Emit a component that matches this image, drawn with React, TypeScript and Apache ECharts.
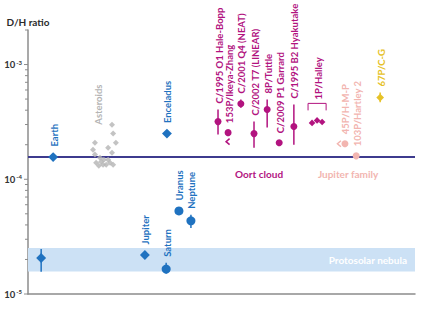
import React, { useEffect, useRef } from 'react';
import * as echarts from 'echarts';

const FONT = "Lato, 'DejaVu Sans Condensed', sans-serif";
const FS = 9.5;

// axis
const yMin = 1e-5;
const yMax = 2e-3;
const yDecades = [-5, -4, -3];
const yMinorMultipliers = [1, 2, 3, 4, 5, 6, 7, 8, 9];

// reference lines / band
const earthRatio = 1.56e-4;
const nebulaBand = [1.57e-5, 2.52e-5];
const nebulaLabel = 'Protosolar nebula';

// planets & moons (blue)
const blueNames = ['', 'Earth', 'Jupiter', 'Enceladus', 'Saturn', 'Uranus', 'Neptune'];
const blueX = [3.4, 6.5, 30.2, 35.9, 35.7, 39.0, 42.1];
const blueDH = [2.06e-5, 1.56e-4, 2.19e-5, 2.5e-4, 1.65e-5, 5.3e-5, 4.34e-5];
const blueLow = [1.56e-5, null, null, null, 1.5e-5, null, 3.77e-5];
const blueHigh = [2.47e-5, null, null, null, 1.87e-5, null, 4.9e-5];
const blueShape = ['diamond', 'diamond', 'diamond', 'diamond', 'circle', 'circle', 'circle'];

// asteroids (grey)
const asteroidLabel = 'Asteroids';
const asteroidLabelX = 18.1;
const asteroidX = [21.7, 22.0, 17.3, 22.7, 20.7, 16.8, 21.7, 17.3, 18.6, 19.6, 20.7, 17.6, 18.9, 21.2, 19.4, 22.0, 18.3, 20.2];
const asteroidDH = [2.99e-4, 2.5e-4, 2.08e-4, 2.08e-4, 1.88e-4, 1.81e-4, 1.7e-4, 1.64e-4, 1.54e-4, 1.48e-4, 1.48e-4, 1.39e-4, 1.42e-4, 1.39e-4, 1.34e-4, 1.34e-4, 1.31e-4, 1.34e-4];

// Oort cloud comets (magenta)
const oortNames = ['C/1995 O1 Hale-Bopp', '153P/Ikeya-Zhang', 'C/2001 Q4 (NEAT)', 'C/2002 T7 (LINEAR)', '8P/Tuttle', 'C/2009 P1 Garrard', 'C/1995 B2 Hyakutake'];
const oortX = [49.1, 51.7, 55.0, 58.4, 61.8, 64.9, 68.7];
const oortDH = [3.18e-4, 2.55e-4, 4.56e-4, 2.5e-4, 4.05e-4, 2.08e-4, 2.88e-4];
const oortLow = [2.45e-4, null, 4.21e-4, 1.88e-4, 2.82e-4, null, 2.0e-4];
const oortHigh = [4.05e-4, null, 4.95e-4, 3.18e-4, 4.95e-4, null, 4.48e-4];
const oortLimit = [null, 'below', null, null, null, null, null];

// 1P/Halley
const halleyName = '1P/Halley';
const halleyX = [73.4, 74.7, 76.0];
const halleyDH = [3.1e-4, 3.26e-4, 3.16e-4];

// Jupiter family comets (pink)
const jfcNames = ['45P/H-M-P', '103P/Hartley 2'];
const jfcX = [81.9, 84.8];
const jfcDH = [2.04e-4, 1.6e-4];
const jfcLimit = ['left', null];

// 67P (yellow)
const cgNames = ['67P/C-G'];
const cgX = [91.0];
const cgDH = [5.15e-4];
const cgLow = [4.7e-4];
const cgHigh = [5.7e-4];

// group labels
const groupNames = ['Oort cloud', 'Jupiter family'];
const groupX = [59.7, 82.7];

const BLUE = '#1f72c0';
const GREY = '#b4b4b4';
const MAGENTA = '#b2137f';
const PINK = '#f2b5b0';
const YELLOW = '#e6c228';
const EARTHLINE = '#3e3b8e';

function pointSeries(cfg: any) {
  const { names, xs, vals, lows, highs, shapes, color, r, gap, limits } = cfg;
  return {
    type: 'custom',
    z: 5,
    clip: false,
    data: xs.map((x: number, i: number) => [x, vals[i], lows && lows[i] != null ? lows[i] : vals[i], highs && highs[i] != null ? highs[i] : vals[i]]),
    encode: { x: 0, y: 1 },
    renderItem: (params: any, api: any) => {
      const i = params.dataIndex;
      const x = api.value(0);
      const p = api.coord([x, api.value(1)]);
      const lo = api.coord([x, api.value(2)]);
      const hi = api.coord([x, api.value(3)]);
      const children: any[] = [];
      const hasErr = lows && lows[i] != null;
      if (hasErr) {
        children.push({ type: 'line', shape: { x1: p[0], y1: lo[1], x2: p[0], y2: hi[1] }, style: { stroke: color, lineWidth: 1.5 } });
      }
      const shape = shapes ? shapes[i] : 'circle';
      if (shape === 'circle') {
        children.push({ type: 'circle', shape: { cx: p[0], cy: p[1], r }, style: { fill: color } });
      } else {
        const d = r * 1.1;
        children.push({ type: 'polygon', shape: { points: [[p[0], p[1] - d], [p[0] + d, p[1]], [p[0], p[1] + d], [p[0] - d, p[1]]] }, style: { fill: color } });
      }
      const lim = limits ? limits[i] : null;
      if (lim === 'below') {
        children.push({ type: 'polyline', shape: { points: [[p[0] + 1.5, p[1] + 6], [p[0] - 2, p[1] + 9], [p[0] + 1.5, p[1] + 12]] }, style: { stroke: color, lineWidth: 1.5, fill: null } });
      } else if (lim === 'left') {
        children.push({ type: 'polyline', shape: { points: [[p[0] - 4, p[1] - 3], [p[0] - 7.5, p[1]], [p[0] - 4, p[1] + 3]] }, style: { stroke: color, lineWidth: 1.5, fill: null } });
      }
      const top = Math.min(p[1] - r, hi[1]) - gap;
      if (names[i]) {
        children.push({
          type: 'text', x: p[0] + 1, y: top, rotation: Math.PI / 2,
          style: { text: names[i], fill: color, font: `bold ${FS}px ${FONT}`, align: 'left', verticalAlign: 'middle' },
        });
      }
      return { type: 'group', children };
    },
  };
}

export default function App() {
  const ref = useRef<HTMLDivElement>(null);
  useEffect(() => {
    if (!ref.current) return;
    const chart = echarts.init(ref.current, null, { renderer: 'svg' });

    const tickVals: number[] = [];
    yDecades.forEach((e) => yMinorMultipliers.forEach((m) => {
      const v = m * Math.pow(10, e);
      if (v <= yMax * 1.0001) tickVals.push(v);
    }));

    const option: any = {
      animation: false,
      textStyle: { fontFamily: FONT },
      grid: { left: 28, right: 10, top: 30, bottom: 20, containLabel: false },
      xAxis: {
        type: 'value', min: 0, max: 100,
        axisLine: { show: true, lineStyle: { color: '#8c8c8c', width: 1.5 } },
        axisTick: { show: false }, axisLabel: { show: false }, splitLine: { show: false },
      },
      yAxis: {
        type: 'log', logBase: 10, min: yMin, max: yMax,
        name: 'D/H ratio', nameLocation: 'end', nameGap: 3,
        nameTextStyle: { color: '#2a2a2a', fontWeight: 'bold', fontSize: 10, fontFamily: FONT },
        axisLine: { show: true, lineStyle: { color: '#8c8c8c', width: 1.5 } },
        axisTick: { show: false },
        splitLine: { show: false },
        axisLabel: {
          margin: 6,
          formatter: (v: number) => {
            const e = Math.log10(v);
            const r = Math.round(e);
            return Math.abs(e - r) < 1e-6 ? `{b|10}{s|${r}}` : '';
          },
          rich: {
            b: { fontSize: 9.5, fontWeight: 'bold', color: '#333', fontFamily: FONT },
            s: { fontSize: 6, fontWeight: 'bold', color: '#333', fontFamily: FONT, padding: [0, 0, 5, 1] },
          },
        },
      },
      series: [
        {
          // protosolar band
          type: 'line', data: [], z: 1,
          markArea: {
            silent: true,
            itemStyle: { color: '#cce1f5' },
            label: { show: true, position: 'insideRight', distance: 8, color: '#ffffff', fontWeight: 'bold', fontSize: 10, fontFamily: FONT },
            data: [[{ yAxis: nebulaBand[0], xAxis: 0, name: nebulaLabel }, { yAxis: nebulaBand[1], xAxis: 100 }]],
          },
        },
        {
          // Earth reference line
          type: 'custom', clip: false, z: 2,
          data: [[0, earthRatio, 100]],
          encode: { x: [0, 2], y: 1 },
          renderItem: (params: any, api: any) => {
            const a = api.coord([api.value(0), api.value(1)]);
            const b = api.coord([api.value(2), api.value(1)]);
            return { type: 'line', shape: { x1: a[0], y1: a[1], x2: b[0], y2: b[1] }, style: { stroke: EARTHLINE, lineWidth: 2 } };
          },
        },
        {
          // y axis ticks
          type: 'custom', clip: false, z: 3,
          data: tickVals.map((v) => [0, v]),
          encode: { x: 0, y: 1 },
          renderItem: (params: any, api: any) => {
            const p = api.coord([0, api.value(1)]);
            const v = api.value(1);
            const major = Math.abs(Math.log10(v) - Math.round(Math.log10(v))) < 1e-6;
            const len = major ? 4 : 3;
            return { type: 'line', shape: { x1: p[0] - len, y1: p[1], x2: p[0], y2: p[1] }, style: { stroke: '#8c8c8c', lineWidth: 1 } };
          },
        },
        {
          type: 'scatter', z: 4, symbol: 'diamond', symbolSize: 6,
          itemStyle: { color: GREY },
          data: asteroidX.map((x, i) => [x, asteroidDH[i]]),
        },
        {
          type: 'custom', clip: false, z: 4,
          data: [[asteroidLabelX, Math.max(...asteroidDH)]],
          encode: { x: 0, y: 1 },
          renderItem: (params: any, api: any) => {
            const p = api.coord([api.value(0), api.value(1)]);
            return { type: 'text', x: p[0], y: p[1], rotation: Math.PI / 2, style: { text: asteroidLabel, fill: GREY, font: `bold ${FS}px ${FONT}`, align: 'left', verticalAlign: 'middle' } };
          },
        },
        pointSeries({ names: blueNames, xs: blueX, vals: blueDH, lows: blueLow, highs: blueHigh, shapes: blueShape, color: BLUE, r: 4.5, gap: 6 }),
        pointSeries({ names: oortNames, xs: oortX, vals: oortDH, lows: oortLow, highs: oortHigh, color: MAGENTA, r: 3.5, gap: 6, limits: oortLimit }),
        pointSeries({ names: jfcNames, xs: jfcX, vals: jfcDH, color: PINK, r: 3.5, gap: 6, limits: jfcLimit }),
        pointSeries({ names: cgNames, xs: cgX, vals: cgDH, lows: cgLow, highs: cgHigh, shapes: ['diamond'], color: YELLOW, r: 3.5, gap: 6 }),
        {
          // Halley
          type: 'custom', clip: false, z: 5,
          data: halleyX.map((x, i) => [x, halleyDH[i]]),
          encode: { x: 0, y: 1 },
          renderItem: (params: any, api: any) => {
            const i = params.dataIndex;
            const p = api.coord([api.value(0), api.value(1)]);
            const d = 3.3;
            const children: any[] = [
              { type: 'polygon', shape: { points: [[p[0], p[1] - d], [p[0] + d, p[1]], [p[0], p[1] + d], [p[0] - d, p[1]]] }, style: { fill: MAGENTA } },
            ];
            if (i === 0) {
              const pts = halleyX.map((x, k) => api.coord([x, halleyDH[k]]));
              const xl = Math.min(...pts.map((q: any) => q[0])) - 4;
              const xr = Math.max(...pts.map((q: any) => q[0])) + 4;
              const yTop = Math.min(...pts.map((q: any) => q[1]));
              const b = yTop - 10;
              const t = yTop - 17;
              children.push({ type: 'polyline', shape: { points: [[xl, b], [xl, t], [xr, t], [xr, b]] }, style: { stroke: MAGENTA, lineWidth: 1, fill: null } });
              children.push({ type: 'text', x: (xl + xr) / 2 + 1, y: t - 4, rotation: Math.PI / 2, style: { text: halleyName, fill: MAGENTA, font: `bold ${FS}px ${FONT}`, align: 'left', verticalAlign: 'middle' } });
            }
            return { type: 'group', children };
          },
        },
        {
          // group labels
          type: 'custom', clip: false, z: 5,
          data: groupX.map((x) => [x, earthRatio]),
          encode: { x: 0, y: 1 },
          renderItem: (params: any, api: any) => {
            const i = params.dataIndex;
            const p = api.coord([api.value(0), api.value(1)]);
            return { type: 'text', x: p[0], y: p[1] + 17, style: { text: groupNames[i], fill: i === 0 ? MAGENTA : PINK, font: `bold 10px ${FONT}`, align: 'center', verticalAlign: 'middle' } };
          },
        },
      ],
    };
    chart.setOption(option);
    return () => chart.dispose();
  }, []);
  return <div ref={ref} style={{ width: 425, height: 314, position: 'absolute', left: 0, top: 0, background: '#fff' }} />;
}
